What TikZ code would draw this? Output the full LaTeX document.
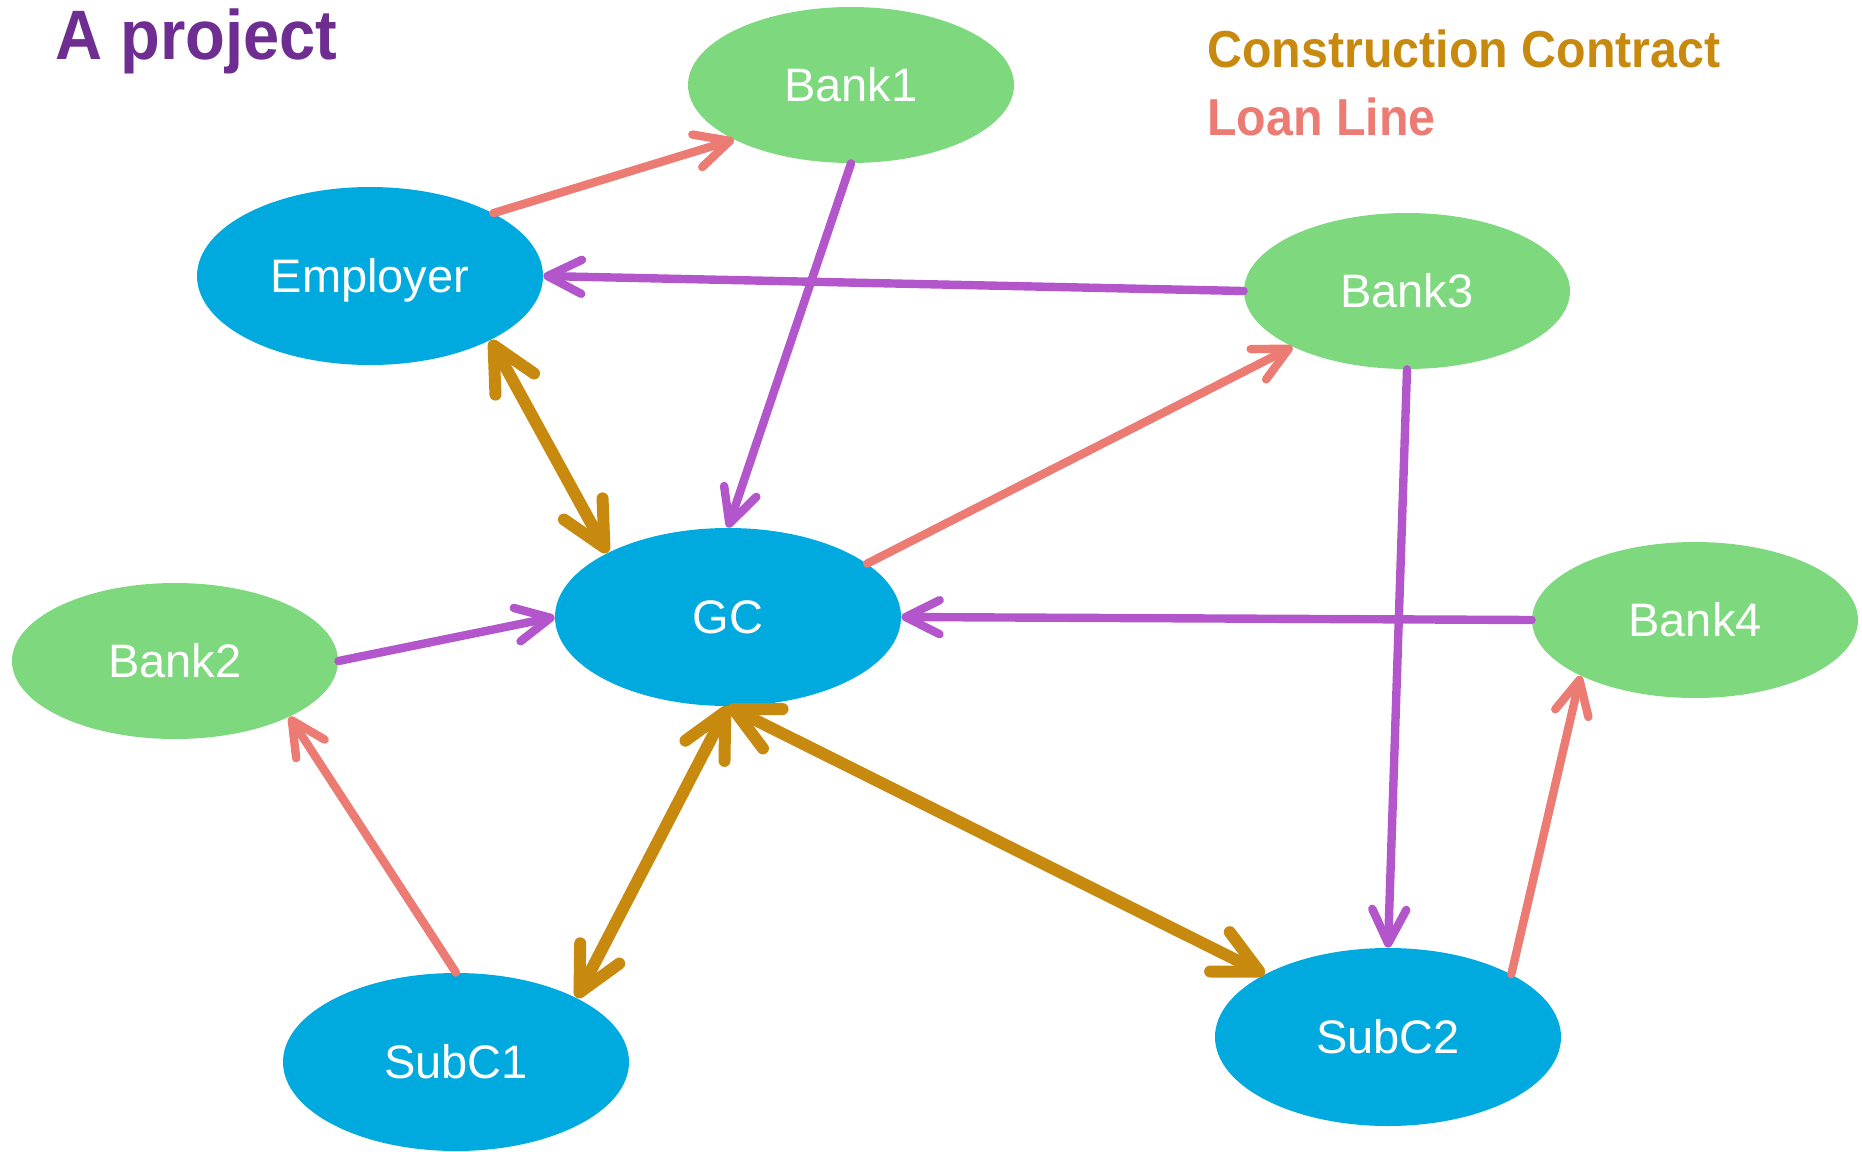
\documentclass[tikz,border=0pt]{standalone}
\usepackage{fontspec}
\setmainfont{Liberation Sans}
\newfontfamily\headfont[FakeStretch=0.93]{Liberation Sans}
\usetikzlibrary{arrows.meta,shapes.geometric}

\definecolor{partyblue}{HTML}{00AADE}
\definecolor{bankgreen}{HTML}{7ED87E}
\definecolor{contractgold}{HTML}{C8890F}
\definecolor{loanred}{HTML}{EC7B73}
\definecolor{fundviolet}{HTML}{B356CC}
\definecolor{titleviolet}{HTML}{6E2D91}

\begin{document}
\begin{tikzpicture}[x=0.5pt, y=-0.5pt, line cap=round, line join=round,
  party/.style={ellipse, fill=partyblue, text=white, inner sep=0pt,
    text height=16.8pt, text depth=0pt,
    minimum width=173pt, minimum height=89pt, font=\fontsize{23.5}{27}\selectfont},
  bank/.style={party, fill=bankgreen, minimum width=163pt, minimum height=78pt},
  loan/.style={draw=loanred, line width=4.2pt, -{Straight Barb[length=17pt,width=17pt,round]}},
  fund/.style={loan, draw=fundviolet},
  contract/.style={draw=contractgold, line width=6pt,
    {Straight Barb[length=22pt,width=22pt,round]}-{Straight Barb[length=22pt,width=22pt,round]}},
  heading/.style={anchor=base west, inner sep=0pt, font=\headfont\bfseries\fontsize{26}{30}\selectfont}]
  \useasboundingbox (0,0) rectangle (1862,1151);

  % parties and banks
  \node[party] (emp) at (370,276) {Employer};
  \node[party] (gc) at (728,617) {GC};
  \node[party] (subc1) at (456,1062) {SubC1};
  \node[party] (subc2) at (1388,1037) {SubC2};
  \node[bank] (bank1) at (851,85) {Bank1};
  \node[bank] (bank2) at (175,661) {Bank2};
  \node[bank] (bank3) at (1407,291) {Bank3};
  \node[bank] (bank4) at (1695,620) {Bank4};

  % title and legend
  \node[heading, text=titleviolet, font=\headfont\bfseries\fontsize{35}{40}\selectfont] (title) at (55,59) {A project};
  \node[heading, text=contractgold] (keycontract) at (1207,67) {Construction Contract};
  \node[heading, text=loanred] (keyloan) at (1207,135) {Loan Line};

  % loan lines
  \draw[loan] (emp.27) -- (bank1.205);
  \draw[loan] (gc.21) -- (bank3.206);
  \draw[loan] (subc1.90) -- (bank2.334);
  \draw[loan] (subc2.27) -- (bank4.206);

  % bank funds
  \draw[fund] (bank1.270) -- (gc.90);
  \draw[fund] (bank3.180) -- (emp.0);
  \draw[fund] (bank3.270) -- (subc2.90);
  \draw[fund] (bank4.180) -- (gc.0);
  \draw[fund] (bank2.0) -- (gc.180);

  % construction contracts
  \draw[contract] (emp.332) -- (gc.152);
  \draw[contract] (gc.270) -- (subc1.28);
  \draw[contract] (gc.270) -- (subc2.153);
\end{tikzpicture}
\end{document}
